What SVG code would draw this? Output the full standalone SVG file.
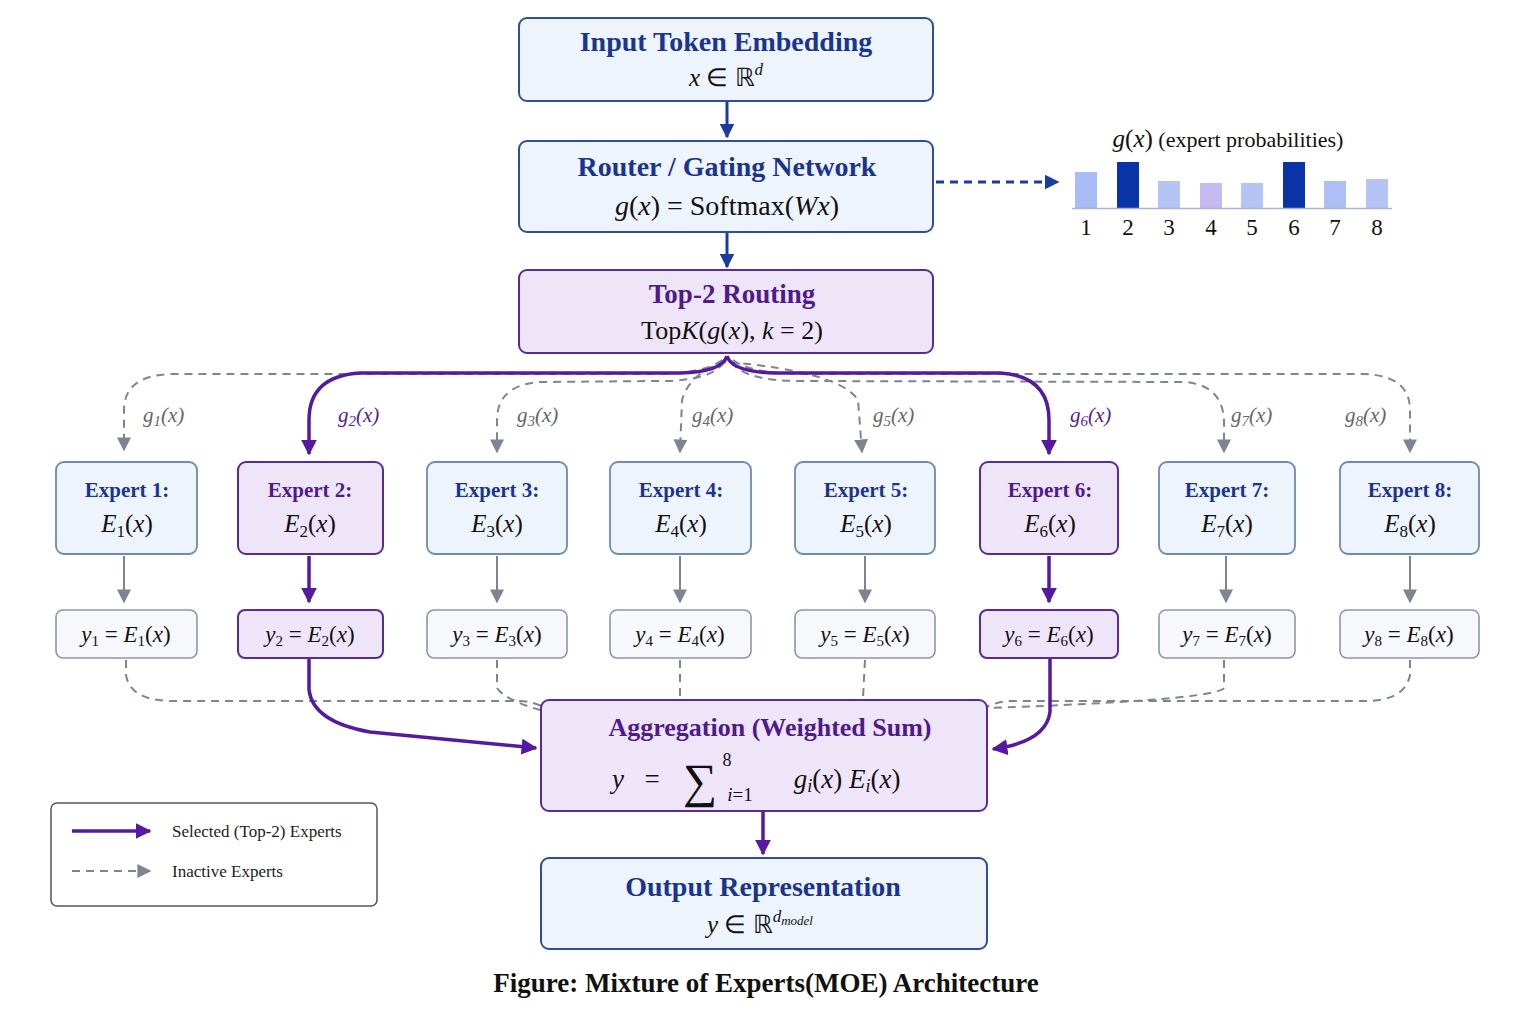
<svg xmlns="http://www.w3.org/2000/svg" width="1536" height="1024" viewBox="0 0 1536 1024">
<style>
.t{font-family:"Liberation Serif",serif;font-weight:bold;text-anchor:middle}
.m{font-family:"Liberation Serif",serif;text-anchor:middle;fill:#111}
.i{font-style:italic}
.blue{fill:#1a3590}
.pur{fill:#4e1a8c}
.nb{fill:#eef4fc;stroke:#2e4f95;stroke-width:2}
.np{fill:#efe5f9;stroke:#5a2a98;stroke-width:2}
.eb{fill:#eef4fc;stroke:#6d8bb3;stroke-width:1.8}
.ep{fill:#efe5f9;stroke:#5a2a98;stroke-width:2}
.ob{fill:#f6f8fc;stroke:#8a96aa;stroke-width:1.6}
.gd{fill:none;stroke:#7f8590;stroke-width:2;stroke-dasharray:8,6}
.gs{fill:none;stroke:#7f8590;stroke-width:2}
.pp{fill:none;stroke:#561aa0;stroke-width:3.5}
.bl{fill:none;stroke:#1a3ca0;stroke-width:3}
.gl{font-family:"Liberation Serif",serif;font-style:italic;font-size:21px;fill:#666}
</style>
<defs>
<marker id="ag" viewBox="0 0 10 10" refX="9" refY="5" markerWidth="7" markerHeight="7" markerUnits="userSpaceOnUse" orient="auto"><path d="M0,0L10,5L0,10z" fill="#7f8590"/></marker>
<marker id="ag2" viewBox="0 0 10 10" refX="9" refY="5" markerWidth="14" markerHeight="14" markerUnits="userSpaceOnUse" orient="auto"><path d="M0,0L10,5L0,10z" fill="#7f8590"/></marker>
<marker id="ap" viewBox="0 0 10 10" refX="9" refY="5" markerWidth="16" markerHeight="16" markerUnits="userSpaceOnUse" orient="auto"><path d="M0,0L10,5L0,10z" fill="#561aa0"/></marker>
<marker id="ab" viewBox="0 0 10 10" refX="9" refY="5" markerWidth="15" markerHeight="15" markerUnits="userSpaceOnUse" orient="auto"><path d="M0,0L10,5L0,10z" fill="#1a3ca0"/></marker>
</defs>
<rect width="1536" height="1024" fill="#fff"/>

<g id="connectors">
<path class="bl" d="M727,101L727,137" marker-end="url(#ab)"/>
<path class="bl" d="M727,232L727,267" marker-end="url(#ab)"/>
<path class="bl" d="M936,182L1058,182" stroke-dasharray="8,6" stroke-width="2.2" marker-end="url(#ab)"/>
<path class="pp" d="M763,811L763,854" marker-end="url(#ap)"/>
<!-- gating dashed -->
<path class="gd" d="M722,360Q705,374 650,374L170,374Q124,376 124,410L124,450" marker-end="url(#ag2)"/>
<path class="gd" d="M724,362Q712,381 660,381L540,382Q497,385 497,420L497,452" marker-end="url(#ag2)"/>
<path class="gd" d="M726,362Q690,372 682,400L680,452" marker-end="url(#ag2)"/>
<path class="gd" d="M729,362Q840,372 858,400L862,452" marker-end="url(#ag2)"/>
<path class="gd" d="M731,362Q745,381 800,381L1185,382Q1222,385 1224,420L1224,452" marker-end="url(#ag2)"/>
<path class="gd" d="M733,360Q750,374 810,374L1365,374Q1410,376 1410,410L1410,452" marker-end="url(#ag2)"/>
<!-- selected -->
<path class="pp" d="M727,356Q722,372 680,373L360,373Q309,376 309,420L309,454" marker-end="url(#ap)"/>
<path class="pp" d="M727,356Q732,372 775,373L1000,373Q1049,376 1049,420L1049,454" marker-end="url(#ap)"/>
<!-- expert to output -->
<path class="gs" d="M124,556L124,602" marker-end="url(#ag2)"/>
<path class="pp" d="M309,556L309,602" marker-end="url(#ap)"/>
<path class="gs" d="M497,556L497,602" marker-end="url(#ag2)"/>
<path class="gs" d="M680,556L680,602" marker-end="url(#ag2)"/>
<path class="gs" d="M865,556L865,602" marker-end="url(#ag2)"/>
<path class="pp" d="M1049,556L1049,602" marker-end="url(#ap)"/>
<path class="gs" d="M1226,556L1226,602" marker-end="url(#ag2)"/>
<path class="gs" d="M1410,556L1410,602" marker-end="url(#ag2)"/>
<!-- outputs to aggregation -->
<path class="gd" d="M126,660L126,675Q130,700 170,701L520,701Q535,702 545,708"/>
<path class="gd" d="M497,660L497,688Q505,700 540,710"/>
<path class="gd" d="M680,660L680,698"/>
<path class="gd" d="M865,660L863,698"/>
<path class="gd" d="M1224,660L1224,688Q1215,700 990,708"/>
<path class="gd" d="M1410,660L1410,675Q1405,701 1365,701L1010,701Q995,702 985,708"/>
<path class="pp" d="M309,658L309,690Q313,722 370,732L536,748" marker-end="url(#ap)"/>
<path class="pp" d="M1050,658L1050,712Q1046,742 993,749" marker-end="url(#ap)"/>
</g>

<g id="input">
<rect class="nb" x="519" y="18" width="414" height="83" rx="8"/>
<text class="t blue" x="726" y="51" font-size="28">Input Token Embedding</text>
<text class="m" x="726" y="86" font-size="25"><tspan class="i">x</tspan> ∈ ℝ<tspan class="i" font-size="17" dy="-11">d</tspan></text>
</g>
<g id="router">
<rect class="nb" x="519" y="141" width="414" height="91" rx="8"/>
<text class="t blue" x="727" y="176" font-size="28">Router / Gating Network</text>
<text class="m" x="727" y="215" font-size="28"><tspan class="i">g</tspan>(<tspan class="i">x</tspan>) = Softmax(<tspan class="i">Wx</tspan>)</text>
</g>
<g id="chart">
<text class="m" x="1228" y="147" font-size="22"><tspan class="i" font-size="25">g</tspan><tspan font-size="25">(</tspan><tspan class="i" font-size="25">x</tspan><tspan font-size="25">)</tspan> (expert probabilities)</text>
<rect x="1075" y="172" width="22" height="36" fill="#a9bcf5"/>
<rect x="1117" y="162" width="22" height="46" fill="#0b33a8"/>
<rect x="1158" y="181" width="22" height="27" fill="#b3c4f5"/>
<rect x="1200" y="183" width="22" height="25" fill="#c6baf3"/>
<rect x="1241" y="183" width="22" height="25" fill="#b3c4f5"/>
<rect x="1283" y="162" width="22" height="46" fill="#0b33a8"/>
<rect x="1324" y="181" width="22" height="27" fill="#adbff5"/>
<rect x="1366" y="179" width="22" height="29" fill="#b3c4f5"/>
<line x1="1072" y1="208.5" x2="1392" y2="208.5" stroke="#aab4cc" stroke-width="1.5"/>
<g class="m" font-size="23">
<text x="1086" y="235">1</text><text x="1128" y="235">2</text><text x="1169" y="235">3</text><text x="1211" y="235">4</text><text x="1252" y="235">5</text><text x="1294" y="235">6</text><text x="1335" y="235">7</text><text x="1377" y="235">8</text>
</g>
</g>
<g id="topk">
<rect class="np" x="519" y="270" width="414" height="83" rx="8"/>
<text class="t pur" x="732" y="303" font-size="27">Top-2 Routing</text>
<text class="m" x="732" y="339" font-size="26">Top<tspan class="i">K</tspan>(<tspan class="i">g</tspan>(<tspan class="i">x</tspan>), <tspan class="i">k</tspan> = 2)</text>
</g>

<g id="glabels" class="gl">
<text x="143" y="422">g<tspan font-size="15" dy="4">1</tspan><tspan dy="-4">(x)</tspan></text>
<text x="338" y="422" fill="#561aa0">g<tspan font-size="15" dy="4">2</tspan><tspan dy="-4">(x)</tspan></text>
<text x="517" y="422">g<tspan font-size="15" dy="4">3</tspan><tspan dy="-4">(x)</tspan></text>
<text x="692" y="422">g<tspan font-size="15" dy="4">4</tspan><tspan dy="-4">(x)</tspan></text>
<text x="873" y="422">g<tspan font-size="15" dy="4">5</tspan><tspan dy="-4">(x)</tspan></text>
<text x="1070" y="422" fill="#561aa0">g<tspan font-size="15" dy="4">6</tspan><tspan dy="-4">(x)</tspan></text>
<text x="1231" y="422">g<tspan font-size="15" dy="4">7</tspan><tspan dy="-4">(x)</tspan></text>
<text x="1345" y="422">g<tspan font-size="15" dy="4">8</tspan><tspan dy="-4">(x)</tspan></text>
</g>

<g id="expert1"><rect class="eb" x="56" y="462" width="141" height="92" rx="8"/><text class="t blue" x="127" y="497" font-size="21">Expert 1:</text><text class="m" x="127" y="532" font-size="25"><tspan class="i">E</tspan><tspan font-size="17" dy="5">1</tspan><tspan dy="-5">(</tspan><tspan class="i">x</tspan>)</text></g>
<g id="expert2"><rect class="ep" x="238" y="462" width="145" height="92" rx="8"/><text class="t pur" x="310" y="497" font-size="21">Expert 2:</text><text class="m" x="310" y="532" font-size="25"><tspan class="i">E</tspan><tspan font-size="17" dy="5">2</tspan><tspan dy="-5">(</tspan><tspan class="i">x</tspan>)</text></g>
<g id="expert3"><rect class="eb" x="427" y="462" width="140" height="92" rx="8"/><text class="t blue" x="497" y="497" font-size="21">Expert 3:</text><text class="m" x="497" y="532" font-size="25"><tspan class="i">E</tspan><tspan font-size="17" dy="5">3</tspan><tspan dy="-5">(</tspan><tspan class="i">x</tspan>)</text></g>
<g id="expert4"><rect class="eb" x="610" y="462" width="141" height="92" rx="8"/><text class="t blue" x="681" y="497" font-size="21">Expert 4:</text><text class="m" x="681" y="532" font-size="25"><tspan class="i">E</tspan><tspan font-size="17" dy="5">4</tspan><tspan dy="-5">(</tspan><tspan class="i">x</tspan>)</text></g>
<g id="expert5"><rect class="eb" x="795" y="462" width="140" height="92" rx="8"/><text class="t blue" x="866" y="497" font-size="21">Expert 5:</text><text class="m" x="866" y="532" font-size="25"><tspan class="i">E</tspan><tspan font-size="17" dy="5">5</tspan><tspan dy="-5">(</tspan><tspan class="i">x</tspan>)</text></g>
<g id="expert6"><rect class="ep" x="980" y="462" width="138" height="92" rx="8"/><text class="t pur" x="1050" y="497" font-size="21">Expert 6:</text><text class="m" x="1050" y="532" font-size="25"><tspan class="i">E</tspan><tspan font-size="17" dy="5">6</tspan><tspan dy="-5">(</tspan><tspan class="i">x</tspan>)</text></g>
<g id="expert7"><rect class="eb" x="1159" y="462" width="136" height="92" rx="8"/><text class="t blue" x="1227" y="497" font-size="21">Expert 7:</text><text class="m" x="1227" y="532" font-size="25"><tspan class="i">E</tspan><tspan font-size="17" dy="5">7</tspan><tspan dy="-5">(</tspan><tspan class="i">x</tspan>)</text></g>
<g id="expert8"><rect class="eb" x="1340" y="462" width="139" height="92" rx="8"/><text class="t blue" x="1410" y="497" font-size="21">Expert 8:</text><text class="m" x="1410" y="532" font-size="25"><tspan class="i">E</tspan><tspan font-size="17" dy="5">8</tspan><tspan dy="-5">(</tspan><tspan class="i">x</tspan>)</text></g>

<g id="y1"><rect class="ob" x="56" y="610" width="141" height="48" rx="7"/><text class="m" x="126" y="642" font-size="23"><tspan class="i">y</tspan><tspan font-size="15" dy="4">1</tspan><tspan dy="-4"> = </tspan><tspan class="i">E</tspan><tspan font-size="15" dy="4">1</tspan><tspan dy="-4">(</tspan><tspan class="i">x</tspan>)</text></g>
<g id="y2"><rect class="ep" x="238" y="610" width="145" height="48" rx="7"/><text class="m" x="310" y="642" font-size="23"><tspan class="i">y</tspan><tspan font-size="15" dy="4">2</tspan><tspan dy="-4"> = </tspan><tspan class="i">E</tspan><tspan font-size="15" dy="4">2</tspan><tspan dy="-4">(</tspan><tspan class="i">x</tspan>)</text></g>
<g id="y3"><rect class="ob" x="427" y="610" width="140" height="48" rx="7"/><text class="m" x="497" y="642" font-size="23"><tspan class="i">y</tspan><tspan font-size="15" dy="4">3</tspan><tspan dy="-4"> = </tspan><tspan class="i">E</tspan><tspan font-size="15" dy="4">3</tspan><tspan dy="-4">(</tspan><tspan class="i">x</tspan>)</text></g>
<g id="y4"><rect class="ob" x="610" y="610" width="141" height="48" rx="7"/><text class="m" x="680" y="642" font-size="23"><tspan class="i">y</tspan><tspan font-size="15" dy="4">4</tspan><tspan dy="-4"> = </tspan><tspan class="i">E</tspan><tspan font-size="15" dy="4">4</tspan><tspan dy="-4">(</tspan><tspan class="i">x</tspan>)</text></g>
<g id="y5"><rect class="ob" x="795" y="610" width="140" height="48" rx="7"/><text class="m" x="865" y="642" font-size="23"><tspan class="i">y</tspan><tspan font-size="15" dy="4">5</tspan><tspan dy="-4"> = </tspan><tspan class="i">E</tspan><tspan font-size="15" dy="4">5</tspan><tspan dy="-4">(</tspan><tspan class="i">x</tspan>)</text></g>
<g id="y6"><rect class="ep" x="980" y="610" width="138" height="48" rx="7"/><text class="m" x="1049" y="642" font-size="23"><tspan class="i">y</tspan><tspan font-size="15" dy="4">6</tspan><tspan dy="-4"> = </tspan><tspan class="i">E</tspan><tspan font-size="15" dy="4">6</tspan><tspan dy="-4">(</tspan><tspan class="i">x</tspan>)</text></g>
<g id="y7"><rect class="ob" x="1159" y="610" width="136" height="48" rx="7"/><text class="m" x="1227" y="642" font-size="23"><tspan class="i">y</tspan><tspan font-size="15" dy="4">7</tspan><tspan dy="-4"> = </tspan><tspan class="i">E</tspan><tspan font-size="15" dy="4">7</tspan><tspan dy="-4">(</tspan><tspan class="i">x</tspan>)</text></g>
<g id="y8"><rect class="ob" x="1340" y="610" width="139" height="48" rx="7"/><text class="m" x="1409" y="642" font-size="23"><tspan class="i">y</tspan><tspan font-size="15" dy="4">8</tspan><tspan dy="-4"> = </tspan><tspan class="i">E</tspan><tspan font-size="15" dy="4">8</tspan><tspan dy="-4">(</tspan><tspan class="i">x</tspan>)</text></g>

<g id="aggregation">
<rect class="np" x="541" y="700" width="446" height="111" rx="8"/>
<text class="t pur" x="770" y="736" font-size="26">Aggregation (Weighted Sum)</text>
<text x="618" y="788" class="m i" font-size="27">y</text>
<text x="652" y="788" class="m" font-size="27">=</text>
<text x="700" y="797" class="m" font-size="48">∑</text>
<text x="727" y="766" class="m" font-size="18">8</text>
<text x="740" y="801" class="m" font-size="19"><tspan class="i">i</tspan>=1</text>
<text x="847" y="788" class="m" font-size="27"><tspan class="i">g</tspan><tspan class="i" font-size="18" dy="4">i</tspan><tspan dy="-4">(</tspan><tspan class="i">x</tspan>) <tspan class="i">E</tspan><tspan class="i" font-size="18" dy="4">i</tspan><tspan dy="-4">(</tspan><tspan class="i">x</tspan>)</text>
</g>
<g id="output">
<rect class="nb" x="541" y="858" width="446" height="91" rx="8"/>
<text class="t blue" x="763" y="896" font-size="28">Output Representation</text>
<text class="m" x="760" y="933" font-size="25"><tspan class="i">y</tspan> ∈ ℝ<tspan class="i" font-size="17" dy="-11">d</tspan><tspan class="i" font-size="13" dy="3">model</tspan></text>
</g>
<g id="legend">
<rect x="51" y="803" width="326" height="103" rx="6" fill="#fff" stroke="#555" stroke-width="1.5"/>
<path class="pp" d="M72,831L150,831" marker-end="url(#ap)"/>
<text x="172" y="837" font-family="Liberation Serif,serif" font-size="17" fill="#222">Selected (Top-2) Experts</text>
<path class="gd" d="M72,871L150,871" marker-end="url(#ag2)"/>
<text x="172" y="877" font-family="Liberation Serif,serif" font-size="17" fill="#222">Inactive Experts</text>
</g>
<text class="t" x="766" y="992" font-size="27" fill="#111">Figure: Mixture of Experts(MOE) Architecture</text>
</svg>
